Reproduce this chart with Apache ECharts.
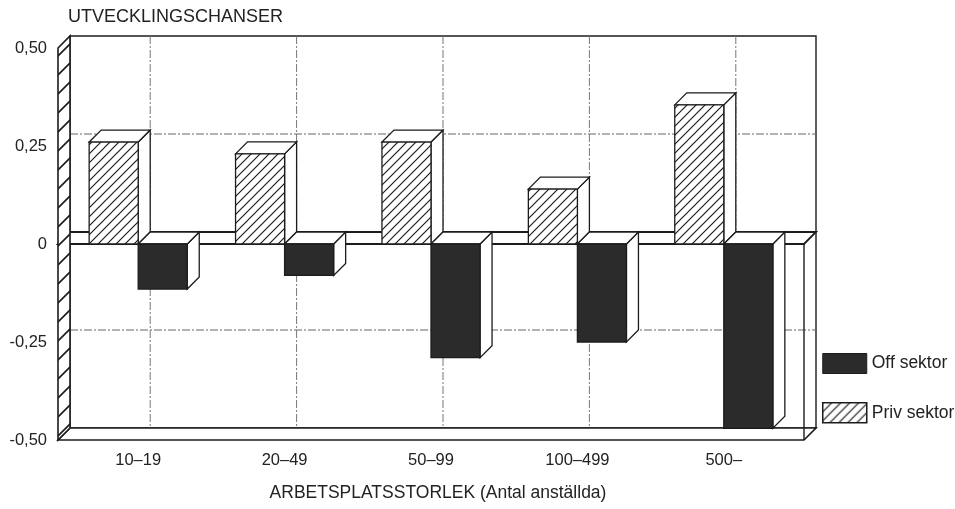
<!DOCTYPE html>
<html>
<head>
<meta charset="utf-8">
<script src="https://cdn.jsdelivr.net/npm/echarts@6/dist/echarts.min.js"></script>
<style>
  html, body { margin: 0; padding: 0; background: #ffffff; }
  #chart { width: 955px; height: 509px; }
</style>
</head>
<body>
<div id="chart"></div>
<script>
// Workplace size groups and the two sectors' values
const categories = ['10–19', '20–49', '50–99', '100–499', '500–'];
const privSektor = [0.26, 0.23, 0.26, 0.14, 0.355];
const offSektor = [-0.115, -0.08, -0.29, -0.25, -0.47];
const yTicks = [-0.5, -0.25, 0, 0.25, 0.5];

// Drawing constants for the pseudo-3D look
const D = 12;            // depth offset of the box, px
const PAD = 7;           // box overhang beyond the outer category bands, px
const BAR_RATIO = 0.335; // bar width as a share of the category band
const INK = '#1c1c1c';
const DARK = '#2b2b2b';
const SANS = "'Liberation Sans', Arial, sans-serif";

function hatch(size, width) {
  const c = document.createElement('canvas');
  c.width = c.height = size;
  const g = c.getContext('2d');
  g.fillStyle = '#ffffff';
  g.fillRect(0, 0, size, size);
  g.strokeStyle = INK;
  g.lineWidth = width;
  g.beginPath();
  g.moveTo(-1, size + 1); g.lineTo(size + 1, -1);
  g.moveTo(-1, 1); g.lineTo(1, -1);
  g.moveTo(size - 1, size + 1); g.lineTo(size + 1, size - 1);
  g.stroke();
  return { image: c, repeat: 'repeat' };
}
const BAR_HATCH = hatch(9, 1.2);
const WALL_HATCH = hatch(19, 1.6);

function poly(points, fill, lw) {
  return {
    type: 'polygon',
    shape: { points: points },
    style: { fill: fill, stroke: INK, lineWidth: lw || 1.3, lineJoin: 'miter' }
  };
}

// Box: back wall, dashed grid, floor, zero shelf and hatched side wall
function renderFrame(params, api) {
  const cs = params.coordSys;
  const x = cs.x - PAD, y = cs.y, w = cs.width + 2 * PAD, h = cs.height;
  const y0 = api.coord([0, 0])[1];
  const children = [];
  children.push({
    type: 'rect',
    shape: { x: x + D, y: y - D, width: w, height: h },
    style: { fill: '#ffffff', stroke: INK, lineWidth: 1.4 }
  });
  yTicks.forEach(function (v, k) {
    if (v === 0 || k === 0 || k === yTicks.length - 1) return;
    const yy = api.coord([0, v])[1] - D;
    children.push({
      type: 'line',
      shape: { x1: x + D, y1: yy, x2: x + w + D, y2: yy },
      style: { stroke: '#666', lineWidth: 1, lineDash: [8, 2, 2, 2] }
    });
  });
  categories.forEach(function (c, i) {
    const xx = api.coord([i, 0])[0] + D;
    children.push({
      type: 'line',
      shape: { x1: xx, y1: y - D, x2: xx, y2: y + h - D },
      style: { stroke: '#777', lineWidth: 1, lineDash: [8, 2, 2, 2] }
    });
  });
  children.push(poly([[x, y + h], [x + D, y + h - D], [x + w + D, y + h - D], [x + w, y + h]], '#ffffff', 1.6));
  children.push(poly([[x, y0], [x + D, y0 - D], [x + w + D, y0 - D], [x + w, y0]], '#ffffff', 1.8));
  children.push({
    type: 'line',
    shape: { x1: x + w, y1: y0, x2: x + w, y2: y + h },
    style: { stroke: INK, lineWidth: 1.4 }
  });
  children.push(poly([[x, y], [x + D, y - D], [x + D, y + h - D], [x, y + h]], WALL_HATCH, 1.6));
  return { type: 'group', children: children };
}

// One bar with its top and right faces; side = -1 sits left of the tick, +1 right
function makeBarRenderer(side, fill) {
  return function (params, api) {
    const i = api.value(0), v = api.value(1);
    const base = api.coord([i, 0]);
    const end = api.coord([i, v]);
    const bw = api.size([1, 0])[0] * BAR_RATIO;
    const x0 = side < 0 ? base[0] - bw : base[0];
    const x1 = x0 + bw;
    const yTop = Math.min(base[1], end[1]);
    const yBot = Math.max(base[1], end[1]);
    return {
      type: 'group',
      children: [
        poly([[x1, yTop], [x1 + D, yTop - D], [x1 + D, yBot - D], [x1, yBot]], '#ffffff'),
        poly([[x0, yTop], [x0 + D, yTop - D], [x1 + D, yTop - D], [x1, yTop]], '#ffffff'),
        poly([[x0, yTop], [x1, yTop], [x1, yBot], [x0, yBot]], fill)
      ]
    };
  };
}

function fmt(v) {
  if (v === 0) return '0';
  return (v < 0 ? '-' : '') + Math.abs(v).toFixed(2).replace('.', ',');
}

const chart = echarts.init(document.getElementById('chart'), null, { renderer: 'canvas' });
chart.setOption({
  animation: false,
  backgroundColor: '#ffffff',
  grid: { left: 65, right: 158, top: 48, bottom: 69 },
  legend: {
    orient: 'vertical',
    left: 822,
    top: 353,
    padding: 0,
    itemGap: 28,
    itemWidth: 44,
    itemHeight: 20,
    icon: 'rect',
    textStyle: { fontFamily: SANS, fontSize: 17.5, color: '#222' },
    data: [
      { name: 'Off sektor', itemStyle: { color: DARK, borderColor: INK, borderWidth: 1 } },
      { name: 'Priv sektor', itemStyle: { color: BAR_HATCH, borderColor: INK, borderWidth: 1.5 } }
    ]
  },
  xAxis: {
    type: 'category',
    data: categories,
    name: 'ARBETSPLATSSTORLEK (Antal anställda)',
    nameLocation: 'middle',
    nameGap: 44,
    nameTextStyle: { fontFamily: SANS, fontSize: 17.5, color: '#222', padding: [0, 0, 0, 14] },
    axisLine: { show: false },
    axisTick: { show: false },
    splitLine: { show: false },
    axisLabel: { fontFamily: SANS, fontSize: 16.5, color: '#222', margin: 12 }
  },
  yAxis: {
    type: 'value',
    min: yTicks[0],
    max: yTicks[yTicks.length - 1],
    interval: 0.25,
    name: 'UTVECKLINGSCHANSER',
    nameLocation: 'end',
    nameGap: 31,
    nameTextStyle: { fontFamily: SANS, fontSize: 18, color: '#222', align: 'left', verticalAlign: 'middle', padding: [0, 0, 0, 3] },
    axisLine: { show: false },
    axisTick: { show: false },
    splitLine: { show: false },
    axisLabel: { fontFamily: SANS, fontSize: 16.5, color: '#222', margin: 18, formatter: fmt }
  },
  series: [
    {
      type: 'custom',
      name: 'frame',
      silent: true,
      clip: false,
      z: 1,
      data: [[0, 0]],
      renderItem: renderFrame
    },
    {
      type: 'custom',
      name: 'Priv sektor',
      clip: false,
      z: 3,
      itemStyle: { color: BAR_HATCH },
      data: privSektor.map(function (v, i) { return [i, v]; }),
      renderItem: makeBarRenderer(-1, BAR_HATCH)
    },
    {
      type: 'custom',
      name: 'Off sektor',
      clip: false,
      z: 4,
      itemStyle: { color: DARK },
      data: offSektor.map(function (v, i) { return [i, v]; }),
      renderItem: makeBarRenderer(1, DARK)
    }
  ]
});
</script>
</body>
</html>
